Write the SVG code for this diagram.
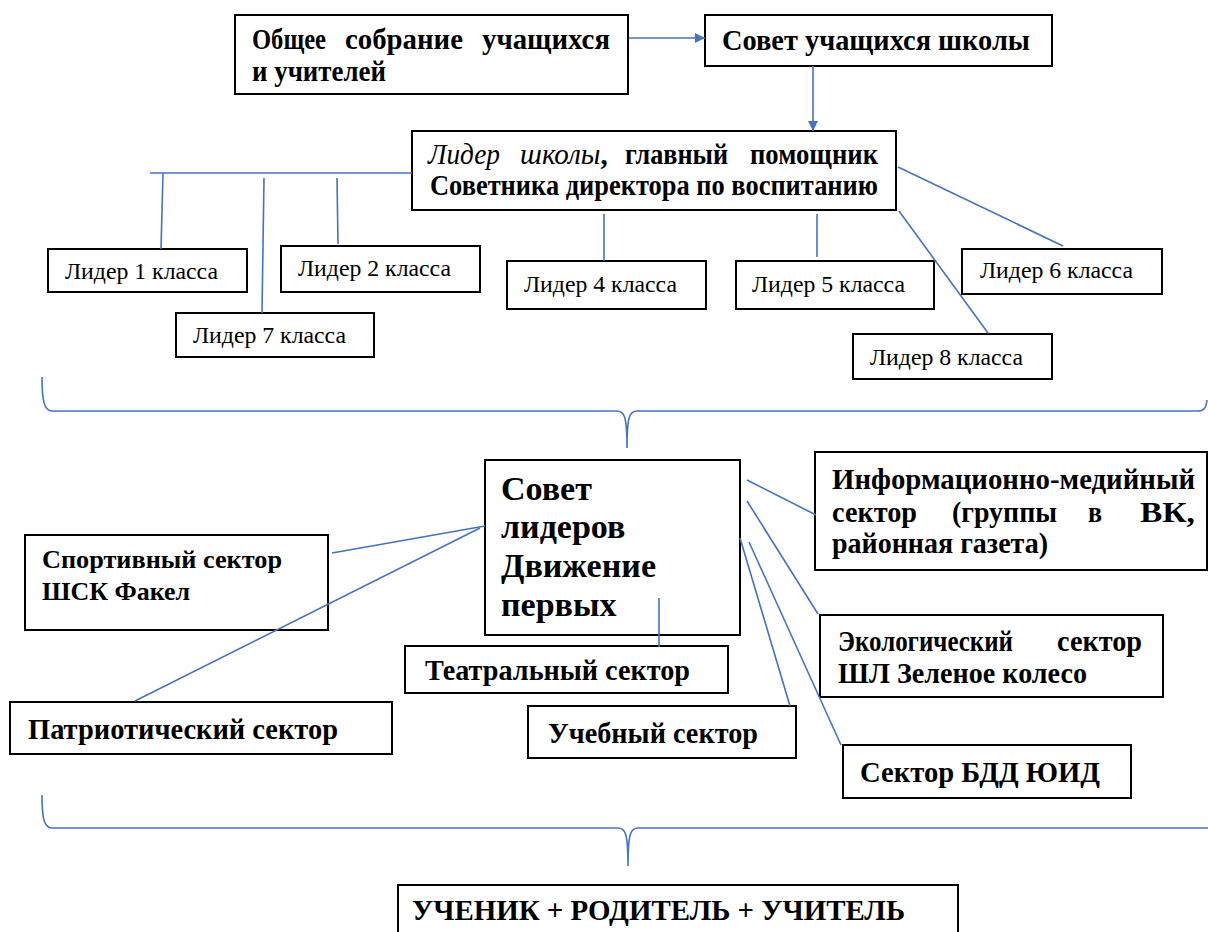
<svg xmlns="http://www.w3.org/2000/svg" width="1208" height="932" viewBox="0 0 1208 932">
<defs>
<style>
.box{fill:#fff;stroke:#000;stroke-width:2}
.t{font-family:"Liberation Serif","Times New Roman",serif;font-weight:bold;font-size:29px;fill:#000}
.r{font-weight:normal;font-size:24px}
.i{font-style:italic;font-weight:normal}
.big{font-size:34px}
.s24{font-size:26px}
.c{fill:none;stroke:#4472C4;stroke-width:1.6}
</style>
<marker id="ah" viewBox="0 0 10 10" refX="10" refY="5" markerWidth="10" markerHeight="10" markerUnits="userSpaceOnUse" orient="auto">
<path d="M0,0 L10,5 L0,10 z" fill="#4472C4"/>
</marker>
</defs>
<rect width="1208" height="932" fill="#fff"/>

<g id="n-obshee">
<rect class="box" x="235" y="15" width="393" height="79"/>
<text class="t" x="252" y="49" textLength="74" lengthAdjust="spacingAndGlyphs">Общее</text>
<text class="t" x="345" y="49" textLength="118" lengthAdjust="spacingAndGlyphs">собрание</text>
<text class="t" x="482" y="49" textLength="128" lengthAdjust="spacingAndGlyphs">учащихся</text>
<text class="t" x="252" y="81" textLength="134" lengthAdjust="spacingAndGlyphs">и учителей</text>
</g>

<g id="n-sovet-uch">
<rect class="box" x="705" y="15" width="347" height="51"/>
<text class="t" x="722" y="50" textLength="308" lengthAdjust="spacingAndGlyphs">Совет учащихся школы</text>
</g>

<g id="n-lider-shkoly">
<rect class="box" x="412" y="131" width="484" height="79"/>
<text class="t i" x="428" y="164" textLength="72" lengthAdjust="spacingAndGlyphs">Лидер</text>
<text class="t" x="520" y="164"><tspan class="i">школы</tspan>,</text>
<text class="t" x="625" y="164" textLength="103" lengthAdjust="spacingAndGlyphs">главный</text>
<text class="t" x="750" y="164" textLength="128" lengthAdjust="spacingAndGlyphs">помощник</text>
<text class="t" x="430" y="195" textLength="448" lengthAdjust="spacingAndGlyphs">Советника директора по воспитанию</text>
</g>

<g id="n-l1"><rect class="box" x="48" y="249" width="199" height="43"/><text class="t r" x="65" y="279" textLength="153" lengthAdjust="spacingAndGlyphs">Лидер 1 класса</text></g>
<g id="n-l2"><rect class="box" x="281" y="246" width="199" height="46"/><text class="t r" x="298" y="276" textLength="153" lengthAdjust="spacingAndGlyphs">Лидер 2 класса</text></g>
<g id="n-l7"><rect class="box" x="176" y="313" width="198" height="44"/><text class="t r" x="193" y="343" textLength="153" lengthAdjust="spacingAndGlyphs">Лидер 7 класса</text></g>
<g id="n-l4"><rect class="box" x="507" y="261" width="199" height="48"/><text class="t r" x="524" y="292" textLength="153" lengthAdjust="spacingAndGlyphs">Лидер 4 класса</text></g>
<g id="n-l5"><rect class="box" x="736" y="261" width="198" height="48"/><text class="t r" x="752" y="292" textLength="153" lengthAdjust="spacingAndGlyphs">Лидер 5 класса</text></g>
<g id="n-l6"><rect class="box" x="962" y="249" width="200" height="45"/><text class="t r" x="980" y="278" textLength="153" lengthAdjust="spacingAndGlyphs">Лидер 6 класса</text></g>
<g id="n-l8"><rect class="box" x="853" y="334" width="199" height="45"/><text class="t r" x="870" y="365" textLength="153" lengthAdjust="spacingAndGlyphs">Лидер 8 класса</text></g>

<g id="n-sovet-liderov">
<rect class="box" x="485" y="460" width="255" height="175"/>
<text class="t big" x="501" y="500">Совет</text>
<text class="t big" x="501" y="538">лидеров</text>
<text class="t big" x="501" y="577" textLength="155" lengthAdjust="spacingAndGlyphs">Движение</text>
<text class="t big" x="501" y="616">первых</text>
</g>

<g id="n-info">
<rect class="box" x="815" y="452" width="392" height="118"/>
<text class="t" x="832" y="489" textLength="363" lengthAdjust="spacingAndGlyphs">Информационно-медийный</text>
<text class="t" x="832" y="522" textLength="85" lengthAdjust="spacingAndGlyphs">сектор</text>
<text class="t" x="952" y="522" textLength="105" lengthAdjust="spacingAndGlyphs">(группы</text>
<text class="t" x="1088" y="522" textLength="14" lengthAdjust="spacingAndGlyphs">в</text>
<text class="t" x="1140" y="522" textLength="55" lengthAdjust="spacingAndGlyphs">ВК,</text>
<text class="t" x="832" y="553" textLength="216" lengthAdjust="spacingAndGlyphs">районная газета)</text>
</g>

<g id="n-sport">
<rect class="box" x="25" y="535" width="303" height="95"/>
<text class="t s24" x="42" y="568" textLength="240" lengthAdjust="spacingAndGlyphs">Спортивный сектор</text>
<text class="t s24" x="42" y="600" textLength="148" lengthAdjust="spacingAndGlyphs">ШСК Факел</text>
</g>

<g id="n-eco">
<rect class="box" x="820" y="615" width="343" height="82"/>
<text class="t" x="838" y="651" textLength="175" lengthAdjust="spacingAndGlyphs">Экологический</text>
<text class="t" x="1057" y="651" textLength="85" lengthAdjust="spacingAndGlyphs">сектор</text>
<text class="t" x="838" y="683" textLength="249" lengthAdjust="spacingAndGlyphs">ШЛ Зеленое колесо</text>
</g>

<g id="n-teatr">
<rect class="box" x="405" y="646" width="323" height="47"/>
<text class="t" x="425" y="680" textLength="265" lengthAdjust="spacingAndGlyphs">Театральный сектор</text>
</g>

<g id="n-patriot">
<rect class="box" x="10" y="702" width="382" height="52"/>
<text class="t" x="28" y="739" textLength="310" lengthAdjust="spacingAndGlyphs">Патриотический сектор</text>
</g>

<g id="n-ucheb">
<rect class="box" x="528" y="706" width="268" height="52"/>
<text class="t" x="548" y="743" textLength="210" lengthAdjust="spacingAndGlyphs">Учебный сектор</text>
</g>

<g id="n-bdd">
<rect class="box" x="843" y="745" width="288" height="53"/>
<text class="t" x="860" y="782" textLength="240" lengthAdjust="spacingAndGlyphs">Сектор БДД ЮИД</text>
</g>

<g id="n-uchenik">
<rect class="box" x="398" y="885" width="560" height="60"/>
<text class="t" x="412" y="920" textLength="493" lengthAdjust="spacingAndGlyphs">УЧЕНИК + РОДИТЕЛЬ + УЧИТЕЛЬ</text>
</g>

<g id="connectors">
<line class="c" x1="629" y1="38" x2="705" y2="38" marker-end="url(#ah)"/>
<line class="c" x1="813" y1="66" x2="813" y2="131" marker-end="url(#ah)"/>
<line class="c" x1="150" y1="173" x2="412" y2="173"/>
<line class="c" x1="163" y1="173" x2="161" y2="249"/>
<line class="c" x1="264" y1="178" x2="262" y2="313"/>
<line class="c" x1="337" y1="178" x2="338" y2="244"/>
<line class="c" x1="604" y1="214" x2="604" y2="261"/>
<line class="c" x1="817" y1="214" x2="817" y2="257"/>
<line class="c" x1="898" y1="167" x2="1063" y2="246"/>
<line class="c" x1="899" y1="211" x2="988" y2="333"/>
<path class="c" d="M42,377 C42,400 44,411 52,411 L617,411 C624,411 627,415 627,448 C627,415 630,411 637,411 L1198,411 C1204,411 1206,408 1207,400"/>
<line class="c" x1="332" y1="553" x2="485" y2="526"/>
<line class="c" x1="135" y1="701" x2="480" y2="528"/>
<line class="c" x1="659" y1="598" x2="659" y2="647"/>
<line class="c" x1="747" y1="480" x2="816" y2="515"/>
<line class="c" x1="747" y1="501" x2="818" y2="614"/>
<line class="c" x1="749" y1="542" x2="841" y2="745"/>
<line class="c" x1="740" y1="538" x2="790" y2="706"/>
<path class="c" d="M42,795 C42,818 44,828 52,828 L618,828 C625,828 628,832 628,866 C628,832 631,828 638,828 L1208,828"/>
</g>
</svg>
